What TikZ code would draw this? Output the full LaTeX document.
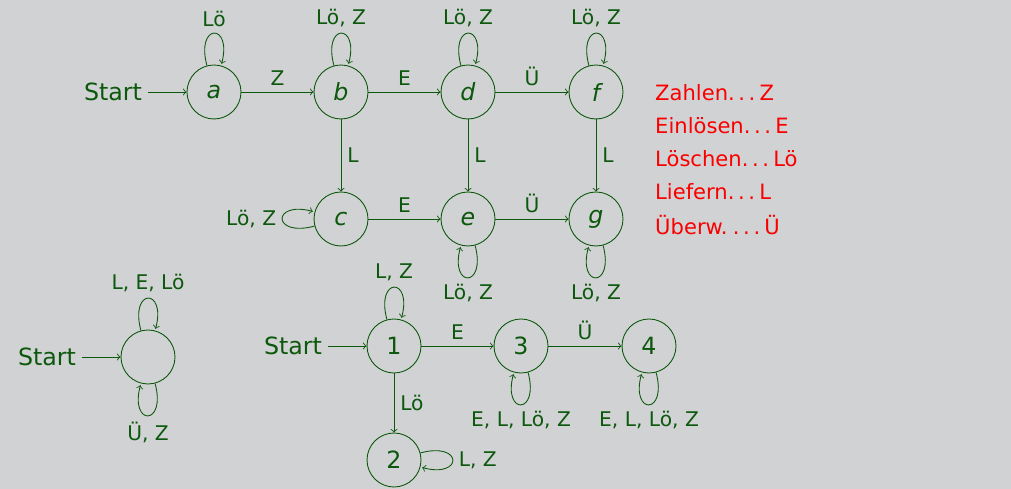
\documentclass[tikz,border=0pt]{standalone}
\usepackage{fontspec}
\setmainfont{DejaVu Sans}
\definecolor{bg}{RGB}{209,210,212}
\definecolor{dg}{RGB}{12,88,12}
\definecolor{lred}{RGB}{250,0,0}
\newcommand\dts{.\hspace{0.17em}.\hspace{0.17em}.\hspace{0.2em}}
\begin{document}
\begin{tikzpicture}[x=0.02cm,y=0.02cm,
  st/.style={circle,draw=dg,minimum size=1.08cm,inner sep=0pt,text=dg,line width=0.5pt,font=\fontsize{13.5}{16}\selectfont\itshape},
  stn/.style={st,font=\fontsize{13.5}{16}\selectfont},
  lab/.style={text=dg,font=\fontsize{11.5}{14}\selectfont},
  startlab/.style={text=dg,font=\fontsize{13.5}{16}\selectfont},
  tr/.style={->,draw=dg,line width=0.5pt},
  legend/.style={text=lred,anchor=west,font=\fontsize{12}{14}\selectfont}]
\useasboundingbox[fill=bg] (0,0) rectangle (1011,-489);
% upper automaton
\node[st] (a) at (214,-92) {a};
\node[st] (b) at (341,-92) {b};
\node[st] (d) at (468,-92) {d};
\node[st] (f) at (596,-92) {f};
\node[st] (c) at (341,-219) {c};
\node[st] (e) at (468,-219) {e};
\node[st] (g) at (596,-219) {g};
\node[startlab] (sa) at (113,-92) {Start};
\draw[tr] (sa) -- (a);
\draw[tr] (a) edge[loop above] node[lab,above]{Lö} (a)
  (b) edge[loop above] node[lab,above]{Lö, Z} (b)
  (d) edge[loop above] node[lab,above]{Lö, Z} (d)
  (f) edge[loop above] node[lab,above]{Lö, Z} (f)
  (c) edge[loop left] node[lab,left]{Lö, Z} (c)
  (e) edge[loop below] node[lab,below]{Lö, Z} (e)
  (g) edge[loop below] node[lab,below]{Lö, Z} (g)
  (a) edge node[lab,above]{Z} (b)
  (b) edge node[lab,above]{E} (d)
  (d) edge node[lab,above]{Ü} (f)
  (c) edge node[lab,above]{E} (e)
  (e) edge node[lab,above]{Ü} (g)
  (b) edge node[lab,right]{L} (c)
  (d) edge node[lab,right]{L} (e)
  (f) edge node[lab,right]{L} (g);
% legend
\node[legend] (l1) at (649,-93) {Zahlen\dts Z};
\node[legend] (l2) at (649,-126) {Einlösen\dts E};
\node[legend] (l3) at (649,-159) {Löschen\dts Lö};
\node[legend] (l4) at (649,-192) {Liefern\dts L};
\node[legend] (l5) at (649,-225) {Überw.\hspace{0.25em}\dts Ü};
% lower left automaton
\node[st] (z) at (148,-357) {};
\node[startlab] (sz) at (47,-357) {Start};
\draw[tr] (sz) -- (z);
\draw[tr] (z) edge[loop above] node[lab,above]{L, E, Lö} (z)
  (z) edge[loop below] node[lab,below]{Ü, Z} (z);
% lower right automaton
\node[stn] (q1) at (394,-346) {1};
\node[stn] (q3) at (521,-346) {3};
\node[stn] (q4) at (649,-346) {4};
\node[stn] (q2) at (394,-460) {2};
\node[startlab] (s1) at (293,-346) {Start};
\draw[tr] (s1) -- (q1);
\draw[tr] (q1) edge[loop above] node[lab,above]{L, Z} (q1)
  (q3) edge[loop below] node[lab,below]{E, L, Lö, Z} (q3)
  (q4) edge[loop below] node[lab,below]{E, L, Lö, Z} (q4)
  (q2) edge[loop right] node[lab,right]{L, Z} (q2)
  (q1) edge node[lab,above]{E} (q3)
  (q3) edge node[lab,above]{Ü} (q4)
  (q1) edge node[lab,right]{Lö} (q2);
\end{tikzpicture}
\end{document}
